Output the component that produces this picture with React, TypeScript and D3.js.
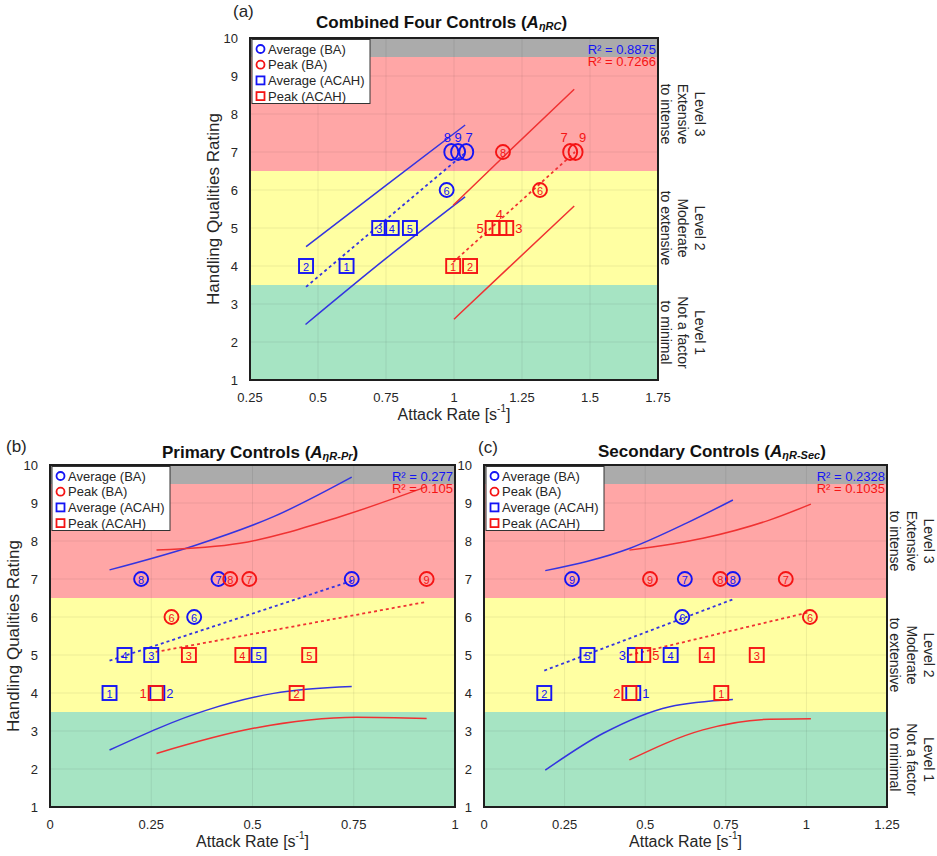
import React from 'react';
import * as d3 from 'd3';

type Pt = [number, number, number]; // [id, x, hqr]
type XY = [number, number];

// ---------- shared ----------
const yTicks = [1, 2, 3, 4, 5, 6, 7, 8, 9, 10];
const bands = [
  { from: 9.5, to: 10, color: '#ababab' },
  { from: 6.5, to: 9.5, color: '#ffa6a6' },
  { from: 3.5, to: 6.5, color: '#ffffa2' },
  { from: 1, to: 3.5, color: '#a6e4c3' },
];
const levelLabels = [
  { center: 8, lines: ['Level 3', 'Extensive', 'to intense'] },
  { center: 5, lines: ['Level 2', 'Moderate', 'to extensive'] },
  { center: 2.25, lines: ['Level 1', 'Not a factor', 'to minimal'] },
];
const legendItems = ['Average (BA)', 'Peak (BA)', 'Average (ACAH)', 'Peak (ACAH)'];

// ---------- panel (a) Combined ----------
const aXTicks = [0.25, 0.5, 0.75, 1, 1.25, 1.5, 1.75];
const aAvgBA: Pt[] = [[6, 0.973, 6], [8, 0.99, 7], [9, 1.015, 7], [7, 1.045, 7]];
const aPeakBA: Pt[] = [[8, 1.18, 7], [6, 1.316, 6], [7, 1.427, 7], [9, 1.447, 7]];
const aAvgACAH: Pt[] = [[2, 0.456, 4], [1, 0.605, 4], [3, 0.725, 5], [4, 0.771, 5], [5, 0.838, 5]];
const aPeakACAH: Pt[] = [[1, 0.997, 4], [2, 1.059, 4], [5, 1.142, 5], [4, 1.167, 5], [3, 1.192, 5]];
const aBlueFit: XY[] = [[0.456, 3.45], [1.045, 7.0]];
const aBlueUpper: XY[] = [[0.456, 4.51], [0.75, 6.12], [1.041, 7.71]];
const aBlueLower: XY[] = [[0.454, 2.46], [0.75, 4.2], [1.041, 5.82]];
const aRedFit: XY[] = [[0.997, 4.1], [1.445, 7.0]];
const aRedUpper: XY[] = [[0.997, 5.6], [1.2, 7.0], [1.442, 8.65]];
const aRedLower: XY[] = [[1.0, 2.6], [1.2, 3.95], [1.442, 5.58]];
const aR2 = ['R² = 0.8875', 'R² = 0.7266'];
// label placement for overlapping markers: [side, horizontal nudge]
const aOutside: Record<string, [string, number]> = {
  'avgBA-8': ['t', -4], 'avgBA-9': ['t', 0], 'avgBA-7': ['t', 3],
  'peakBA-7': ['t', -6], 'peakBA-9': ['t', 7],
  'peakACAH-5': ['l', 0], 'peakACAH-4': ['t', 0], 'peakACAH-3': ['r', 0],
};

// ---------- panel (b) Primary ----------
const bXTicks = [0, 0.25, 0.5, 0.75, 1];
const bAvgBA: Pt[] = [[8, 0.225, 7], [7, 0.416, 7], [9, 0.745, 7], [6, 0.356, 6]];
const bPeakBA: Pt[] = [[8, 0.445, 7], [7, 0.492, 7], [9, 0.93, 7], [6, 0.3, 6]];
const bAvgACAH: Pt[] = [[1, 0.147, 4], [2, 0.265, 4], [4, 0.184, 5], [3, 0.25, 5], [5, 0.515, 5]];
const bPeakACAH: Pt[] = [[1, 0.261, 4], [2, 0.609, 4], [3, 0.343, 5], [4, 0.475, 5], [5, 0.64, 5]];
const bBlueFit: XY[] = [[0.147, 4.85], [0.745, 6.95]];
const bBlueUpper: XY[] = [[0.147, 7.24], [0.354, 7.87], [0.552, 8.64], [0.745, 9.68]];
const bBlueLower: XY[] = [[0.147, 2.5], [0.387, 3.55], [0.552, 3.99], [0.745, 4.17]];
const bRedFit: XY[] = [[0.261, 5.08], [0.93, 6.4]];
const bRedUpper: XY[] = [[0.263, 7.76], [0.469, 7.94], [0.716, 8.64], [0.93, 9.43]];
const bRedLower: XY[] = [[0.263, 2.41], [0.502, 3.07], [0.757, 3.36], [0.93, 3.33]];
const bR2 = ['R² = 0.277', 'R² = 0.105'];
const bOutside: Record<string, [string, number]> = { 'avgACAH-2': ['r', 0], 'peakACAH-1': ['l', 0] };

// ---------- panel (c) Secondary ----------
const cXTicks = [0, 0.25, 0.5, 0.75, 1, 1.25];
const cAvgBA: Pt[] = [[9, 0.273, 7], [7, 0.623, 7], [8, 0.772, 7], [6, 0.615, 6]];
const cPeakBA: Pt[] = [[9, 0.515, 7], [8, 0.733, 7], [7, 0.936, 7], [6, 1.011, 6]];
const cAvgACAH: Pt[] = [[2, 0.187, 4], [1, 0.463, 4], [5, 0.321, 5], [3, 0.468, 5], [4, 0.579, 5]];
const cPeakACAH: Pt[] = [[2, 0.451, 4], [1, 0.736, 4], [5, 0.494, 5], [4, 0.691, 5], [3, 0.846, 5]];
const cBlueFit: XY[] = [[0.187, 4.59], [0.774, 6.47]];
const cBlueUpper: XY[] = [[0.19, 7.22], [0.453, 7.81], [0.628, 8.47], [0.772, 9.08]];
const cBlueLower: XY[] = [[0.19, 1.97], [0.37, 2.94], [0.576, 3.64], [0.772, 3.83]];
const cRedFit: XY[] = [[0.451, 5.0], [1.011, 6.13]];
const cRedUpper: XY[] = [[0.451, 7.76], [0.679, 8.07], [0.885, 8.55], [1.014, 8.97]];
const cRedLower: XY[] = [[0.451, 2.24], [0.679, 3.03], [0.885, 3.31], [1.014, 3.32]];
const cR2 = ['R² = 0.2328', 'R² = 0.1035'];
const cOutside: Record<string, [string, number]> = {
  'avgACAH-3': ['l', 0], 'avgACAH-1': ['r', 0], 'peakACAH-5': ['r', 0], 'peakACAH-2': ['l', 0],
};

const FONT = 'Liberation Sans, Arial, Helvetica, sans-serif';
const BLUE = '#1414f5';
const RED = '#f51414';
const BLUE_LINE = '#3434e0';
const RED_LINE = '#f03232';
const TXT = '#262626';

type PanelProps = {
  left: number; right: number; top: number; bottom: number;
  domain: [number, number]; xTicks: number[];
  avgBA: Pt[]; peakBA: Pt[]; avgACAH: Pt[]; peakACAH: Pt[];
  blueFit: XY[]; blueUpper: XY[]; blueLower: XY[];
  redFit: XY[]; redUpper: XY[]; redLower: XY[];
  r2: string[]; outside: Record<string, [string, number]>;
  title: string; sub: string; titleX: number; titleY: number;
  letter: string; letterX: number; letterY: number;
  yLabel: boolean; levels: boolean;
};

function Panel(p: PanelProps) {
  const xs = d3.scaleLinear().domain(p.domain).range([p.left, p.right]);
  const ys = d3.scaleLinear().domain([1, 10]).range([p.bottom, p.top]);
  const line = d3.line<XY>().x(d => xs(d[0])).y(d => ys(d[1])).curve(d3.curveMonotoneX);
  const fmt = (v: number) => String(v);

  const outsideLabel = (key: string, cx: number, cy: number, id: number, color: string, half: number) => {
    const spec = p.outside[key];
    if (!spec) return null;
    const [side, dx] = spec;
    let x = cx + dx, y = cy, anchor: any = 'middle';
    if (side === 't') { y = cy - half - 7; }
    if (side === 'l') { x = cx - half - 2; anchor = 'end'; }
    if (side === 'r') { x = cx + half + 2; anchor = 'start'; }
    return (
      <text x={x} y={y} fill={color} fontSize={13} textAnchor={anchor} dominantBaseline="central" fontFamily={FONT}>{id}</text>
    );
  };

  const circles = (pts: Pt[], color: string, kind: string) =>
    pts.map(([id, x, y]) => {
      const cx = xs(x), cy = ys(y);
      const key = `${kind}-${id}`;
      const out = !!p.outside[key];
      return (
        <g key={key}>
          <ellipse cx={cx} cy={cy} rx={7} ry={out ? 8 : 7} fill="none" stroke={color} strokeWidth={1.9} />
          {out ? outsideLabel(key, cx, cy, id, color, 8) : (
            <text x={cx} y={cy + 0.5} fill={color} fontSize={11} textAnchor="middle" dominantBaseline="central" fontFamily={FONT}>{id}</text>
          )}
        </g>
      );
    });

  const squares = (pts: Pt[], color: string, kind: string) =>
    pts.map(([id, x, y]) => {
      const cx = xs(x), cy = ys(y);
      const key = `${kind}-${id}`;
      const out = !!p.outside[key];
      return (
        <g key={key}>
          <rect x={cx - 7} y={cy - 7} width={14} height={14} fill="none" stroke={color} strokeWidth={1.9} />
          {out ? outsideLabel(key, cx, cy, id, color, 7) : (
            <text x={cx} y={cy + 0.5} fill={color} fontSize={11} textAnchor="middle" dominantBaseline="central" fontFamily={FONT}>{id}</text>
          )}
        </g>
      );
    });

  const legX = p.left + 2, legY = p.top + 1.5;
  return (
    <g fontFamily={FONT}>
      {bands.map(b => (
        <rect key={b.from} x={p.left} width={p.right - p.left} y={ys(b.to)} height={ys(b.from) - ys(b.to)} fill={b.color} />
      ))}
      {p.xTicks.map(t => (
        <line key={'gx' + t} x1={xs(t)} x2={xs(t)} y1={p.top} y2={p.bottom} stroke="#000" strokeOpacity={0.07} />
      ))}
      {yTicks.map(t => (
        <line key={'gy' + t} x1={p.left} x2={p.right} y1={ys(t)} y2={ys(t)} stroke="#000" strokeOpacity={0.07} />
      ))}

      <path d={line(p.blueUpper) || ''} fill="none" stroke={BLUE_LINE} strokeWidth={1.5} />
      <path d={line(p.blueLower) || ''} fill="none" stroke={BLUE_LINE} strokeWidth={1.5} />
      <path d={line(p.redUpper) || ''} fill="none" stroke={RED_LINE} strokeWidth={1.5} />
      <path d={line(p.redLower) || ''} fill="none" stroke={RED_LINE} strokeWidth={1.5} />
      <path d={line(p.blueFit) || ''} fill="none" stroke={BLUE_LINE} strokeWidth={1.8} strokeDasharray="3,3" />
      <path d={line(p.redFit) || ''} fill="none" stroke={RED_LINE} strokeWidth={1.8} strokeDasharray="3,3" />

      {squares(p.avgACAH, BLUE, 'avgACAH')}
      {squares(p.peakACAH, RED, 'peakACAH')}
      {circles(p.avgBA, BLUE, 'avgBA')}
      {circles(p.peakBA, RED, 'peakBA')}

      {/* legend */}
      <rect x={legX} y={legY} width={118} height={64} fill="#fff" stroke="#333" strokeWidth={1} />
      {legendItems.map((t, i) => {
        const cy = legY + 9.5 + i * 15.7;
        const color = i % 2 === 0 ? BLUE : RED;
        return (
          <g key={t}>
            {i < 2 ? (
              <circle cx={legX + 8.5} cy={cy} r={4} fill="none" stroke={color} strokeWidth={1.8} />
            ) : (
              <rect x={legX + 4.5} y={cy - 4} width={8} height={8} fill="none" stroke={color} strokeWidth={1.8} />
            )}
            <text x={legX + 16} y={cy} dominantBaseline="central" fontSize={13} fill={TXT}>{t}</text>
          </g>
        );
      })}

      <text x={p.right - 2} y={p.top + 11} textAnchor="end" dominantBaseline="central" fontSize={13} fill={BLUE}>{p.r2[0]}</text>
      <text x={p.right - 2} y={p.top + 23} textAnchor="end" dominantBaseline="central" fontSize={13} fill={RED}>{p.r2[1]}</text>

      <rect x={p.left} y={p.top} width={p.right - p.left} height={p.bottom - p.top} fill="none" stroke="#1e1e1e" strokeWidth={2} />

      {/* axes text */}
      {p.xTicks.map(t => (
        <text key={'xt' + t} x={xs(t)} y={p.bottom + 17} textAnchor="middle" dominantBaseline="central" fontSize={13} fill={TXT}>{fmt(t)}</text>
      ))}
      {yTicks.map(t => (
        <text key={'yt' + t} x={p.left - 12} y={ys(t)} textAnchor="end" dominantBaseline="central" fontSize={13} fill={TXT}>{t}</text>
      ))}
      <text x={(p.left + p.right) / 2} y={p.bottom + 34} textAnchor="middle" dominantBaseline="central" fontSize={16} fill={TXT}>
        Attack Rate [s<tspan dy={-6} fontSize={10}>-1</tspan><tspan dy={6}>]</tspan>
      </text>
      {p.yLabel && (
        <text transform={`translate(${p.left - 37},${(p.top + p.bottom) / 2}) rotate(-90)`} textAnchor="middle" dominantBaseline="central" fontSize={17} fill={TXT}>
          Handling Qualities Rating
        </text>
      )}
      {p.levels && levelLabels.map(l => (
        <g key={l.lines[0]}>
          {l.lines.map((s, i) => (
            <text key={s} transform={`translate(${p.right + 42 - i * 17},${ys(l.center)}) rotate(90)`} textAnchor="middle" dominantBaseline="central" fontSize={14} fill={TXT}>{s}</text>
          ))}
        </g>
      ))}
      <text x={p.titleX} y={p.titleY} dominantBaseline="central" fontSize={17} fontWeight="bold" fill="#111">
        {p.title} (<tspan fontStyle="italic">A</tspan><tspan fontStyle="italic" fontSize={11} dy={4}>{p.sub}</tspan><tspan dy={-4}>)</tspan>
      </text>
      <text x={p.letterX} y={p.letterY} dominantBaseline="central" fontSize={17} fill={TXT}>{p.letter}</text>
    </g>
  );
}

export default function App() {
  return (
    <svg width={937} height={856} style={{ position: 'absolute', left: 0, top: 0, background: '#fff' }}>
      <rect width={937} height={856} fill="#fff" />
      <Panel left={250} right={658} top={38} bottom={380} domain={[0.25, 1.75]} xTicks={aXTicks}
        avgBA={aAvgBA} peakBA={aPeakBA} avgACAH={aAvgACAH} peakACAH={aPeakACAH}
        blueFit={aBlueFit} blueUpper={aBlueUpper} blueLower={aBlueLower}
        redFit={aRedFit} redUpper={aRedUpper} redLower={aRedLower}
        r2={aR2} outside={aOutside}
        title="Combined Four Controls" sub="ηRC" titleX={316} titleY={22}
        letter="(a)" letterX={233} letterY={11} yLabel={true} levels={true} />
      <Panel left={50} right={455} top={465} bottom={807} domain={[0, 1]} xTicks={bXTicks}
        avgBA={bAvgBA} peakBA={bPeakBA} avgACAH={bAvgACAH} peakACAH={bPeakACAH}
        blueFit={bBlueFit} blueUpper={bBlueUpper} blueLower={bBlueLower}
        redFit={bRedFit} redUpper={bRedUpper} redLower={bRedLower}
        r2={bR2} outside={bOutside}
        title="Primary Controls" sub="ηR-Pr" titleX={162} titleY={452}
        letter="(b)" letterX={6} letterY={446} yLabel={true} levels={false} />
      <Panel left={484} right={887} top={465} bottom={807} domain={[0, 1.25]} xTicks={cXTicks}
        avgBA={cAvgBA} peakBA={cPeakBA} avgACAH={cAvgACAH} peakACAH={cPeakACAH}
        blueFit={cBlueFit} blueUpper={cBlueUpper} blueLower={cBlueLower}
        redFit={cRedFit} redUpper={cRedUpper} redLower={cRedLower}
        r2={cR2} outside={cOutside}
        title="Secondary Controls" sub="ηR-Sec" titleX={598} titleY={451}
        letter="(c)" letterX={478} letterY={447} yLabel={false} levels={true} />
    </svg>
  );
}
